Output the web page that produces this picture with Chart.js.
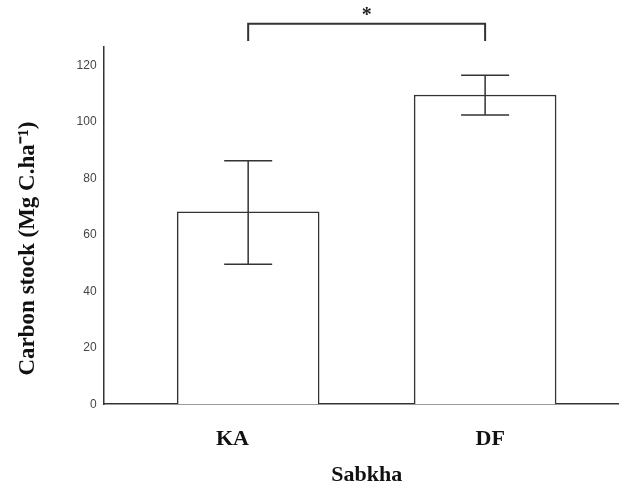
<!DOCTYPE html>
<html>
<head>
<meta charset="utf-8">
<script src="https://cdn.jsdelivr.net/npm/chart.js@4"></script>
<style>
  html, body { margin: 0; padding: 0; background: #fff; }
  #wrap { width: 619px; height: 489px; }
</style>
</head>
<body>
<div id="wrap"><canvas id="stockChart" width="619" height="489"></canvas></div>
<script>
// Data
const categories = ['KA', 'DF'];
const barPositions = [1, 2];
const carbonStock = [68.1, 109.5];
const errorLow = [49.6, 102.4];
const errorHigh = [86.2, 116.5];
const yTicks = [0, 20, 40, 60, 80, 100, 120];
const sigLabel = '*';
const sigLevel = 134.7;
const sigDrop = 128.6;

const lineColor = '#333';
const serif = '"Liberation Serif", "Times New Roman", serif';

// Error bars + significance bracket
const errorBarPlugin = {
    id: 'errorBars',
    afterDatasetsDraw(chart) {
        const ctx = chart.ctx;
        const yScale = chart.scales.y;
        const meta = chart.getDatasetMeta(0);
        const capHalf = 24;

        ctx.save();
        ctx.strokeStyle = lineColor;
        ctx.lineWidth = 1.5;

        meta.data.forEach((bar, i) => {
            const yLo = yScale.getPixelForValue(errorLow[i]);
            const yHi = yScale.getPixelForValue(errorHigh[i]);
            ctx.beginPath();
            ctx.moveTo(bar.x, yLo);
            ctx.lineTo(bar.x, yHi);
            ctx.moveTo(bar.x - capHalf, yLo);
            ctx.lineTo(bar.x + capHalf, yLo);
            ctx.moveTo(bar.x - capHalf, yHi);
            ctx.lineTo(bar.x + capHalf, yHi);
            ctx.stroke();
        });

        // bracket between the two bars
        const x1 = meta.data[0].x;
        const x2 = meta.data[1].x;
        const yTop = yScale.getPixelForValue(sigLevel);
        const yEnd = yScale.getPixelForValue(sigDrop);
        ctx.lineWidth = 2;
        ctx.beginPath();
        ctx.moveTo(x1, yEnd);
        ctx.lineTo(x1, yTop);
        ctx.lineTo(x2, yTop);
        ctx.lineTo(x2, yEnd);
        ctx.stroke();

        ctx.fillStyle = '#222';
        ctx.font = 'bold 20px ' + serif;
        ctx.textAlign = 'center';
        ctx.textBaseline = 'alphabetic';
        ctx.fillText(sigLabel, (x1 + x2) / 2, yTop - 3);
        ctx.restore();
    }
};

const chart = new Chart(document.getElementById('stockChart'), {
    type: 'bar',
    data: {
        labels: categories,
        datasets: [{
            data: barPositions.map((p, i) => ({ x: p, y: carbonStock[i] })),
            xAxisID: 'xb',
            backgroundColor: '#fff',
            borderColor: lineColor,
            borderWidth: 1.5,
            barThickness: 142
        }]
    },
    plugins: [errorBarPlugin],
    options: {
        responsive: false,
        animation: false,
        layout: { padding: { top: 47, left: 0, right: 0, bottom: 0 } },
        plugins: {
            legend: { display: false },
            tooltip: { enabled: false }
        },
        scales: {
            x: {
                type: 'category',
                grid: { display: false, drawTicks: true, tickLength: 22 },
                border: { display: true, color: lineColor, width: 1.5 },
                ticks: {
                    padding: 0,
                    color: '#111',
                    font: { family: serif, size: 22, weight: 'bold' }
                },
                title: {
                    display: true,
                    text: '  Sabkha',
                    color: '#111',
                    padding: { top: 10, bottom: 0 },
                    font: { family: serif, size: 22, weight: 'bold' }
                }
            },
            xb: {
                type: 'linear',
                display: false,
                offset: false,
                min: 0.39,
                max: 2.565
            },
            y: {
                min: 0,
                max: 126.5,
                grid: { display: false, drawTicks: false },
                border: { display: true, color: lineColor, width: 1.5 },
                afterBuildTicks: scale => {
                    scale.ticks = yTicks.map(v => ({ value: v }));
                },
                ticks: {
                    padding: 7,
                    color: '#444',
                    font: { family: '"Liberation Sans", Arial, sans-serif', size: 12 }
                },
                title: {
                    display: true,
                    // trailing spaces nudge the centred title down a little
                    text: 'Carbon stock (Mg C.ha\u207B\u00B9)        ',
                    color: '#111',
                    padding: { top: 14, bottom: 28 },
                    font: { family: serif, size: 23, weight: 'bold' }
                }
            }
        }
    }
});
</script>
</body>
</html>
